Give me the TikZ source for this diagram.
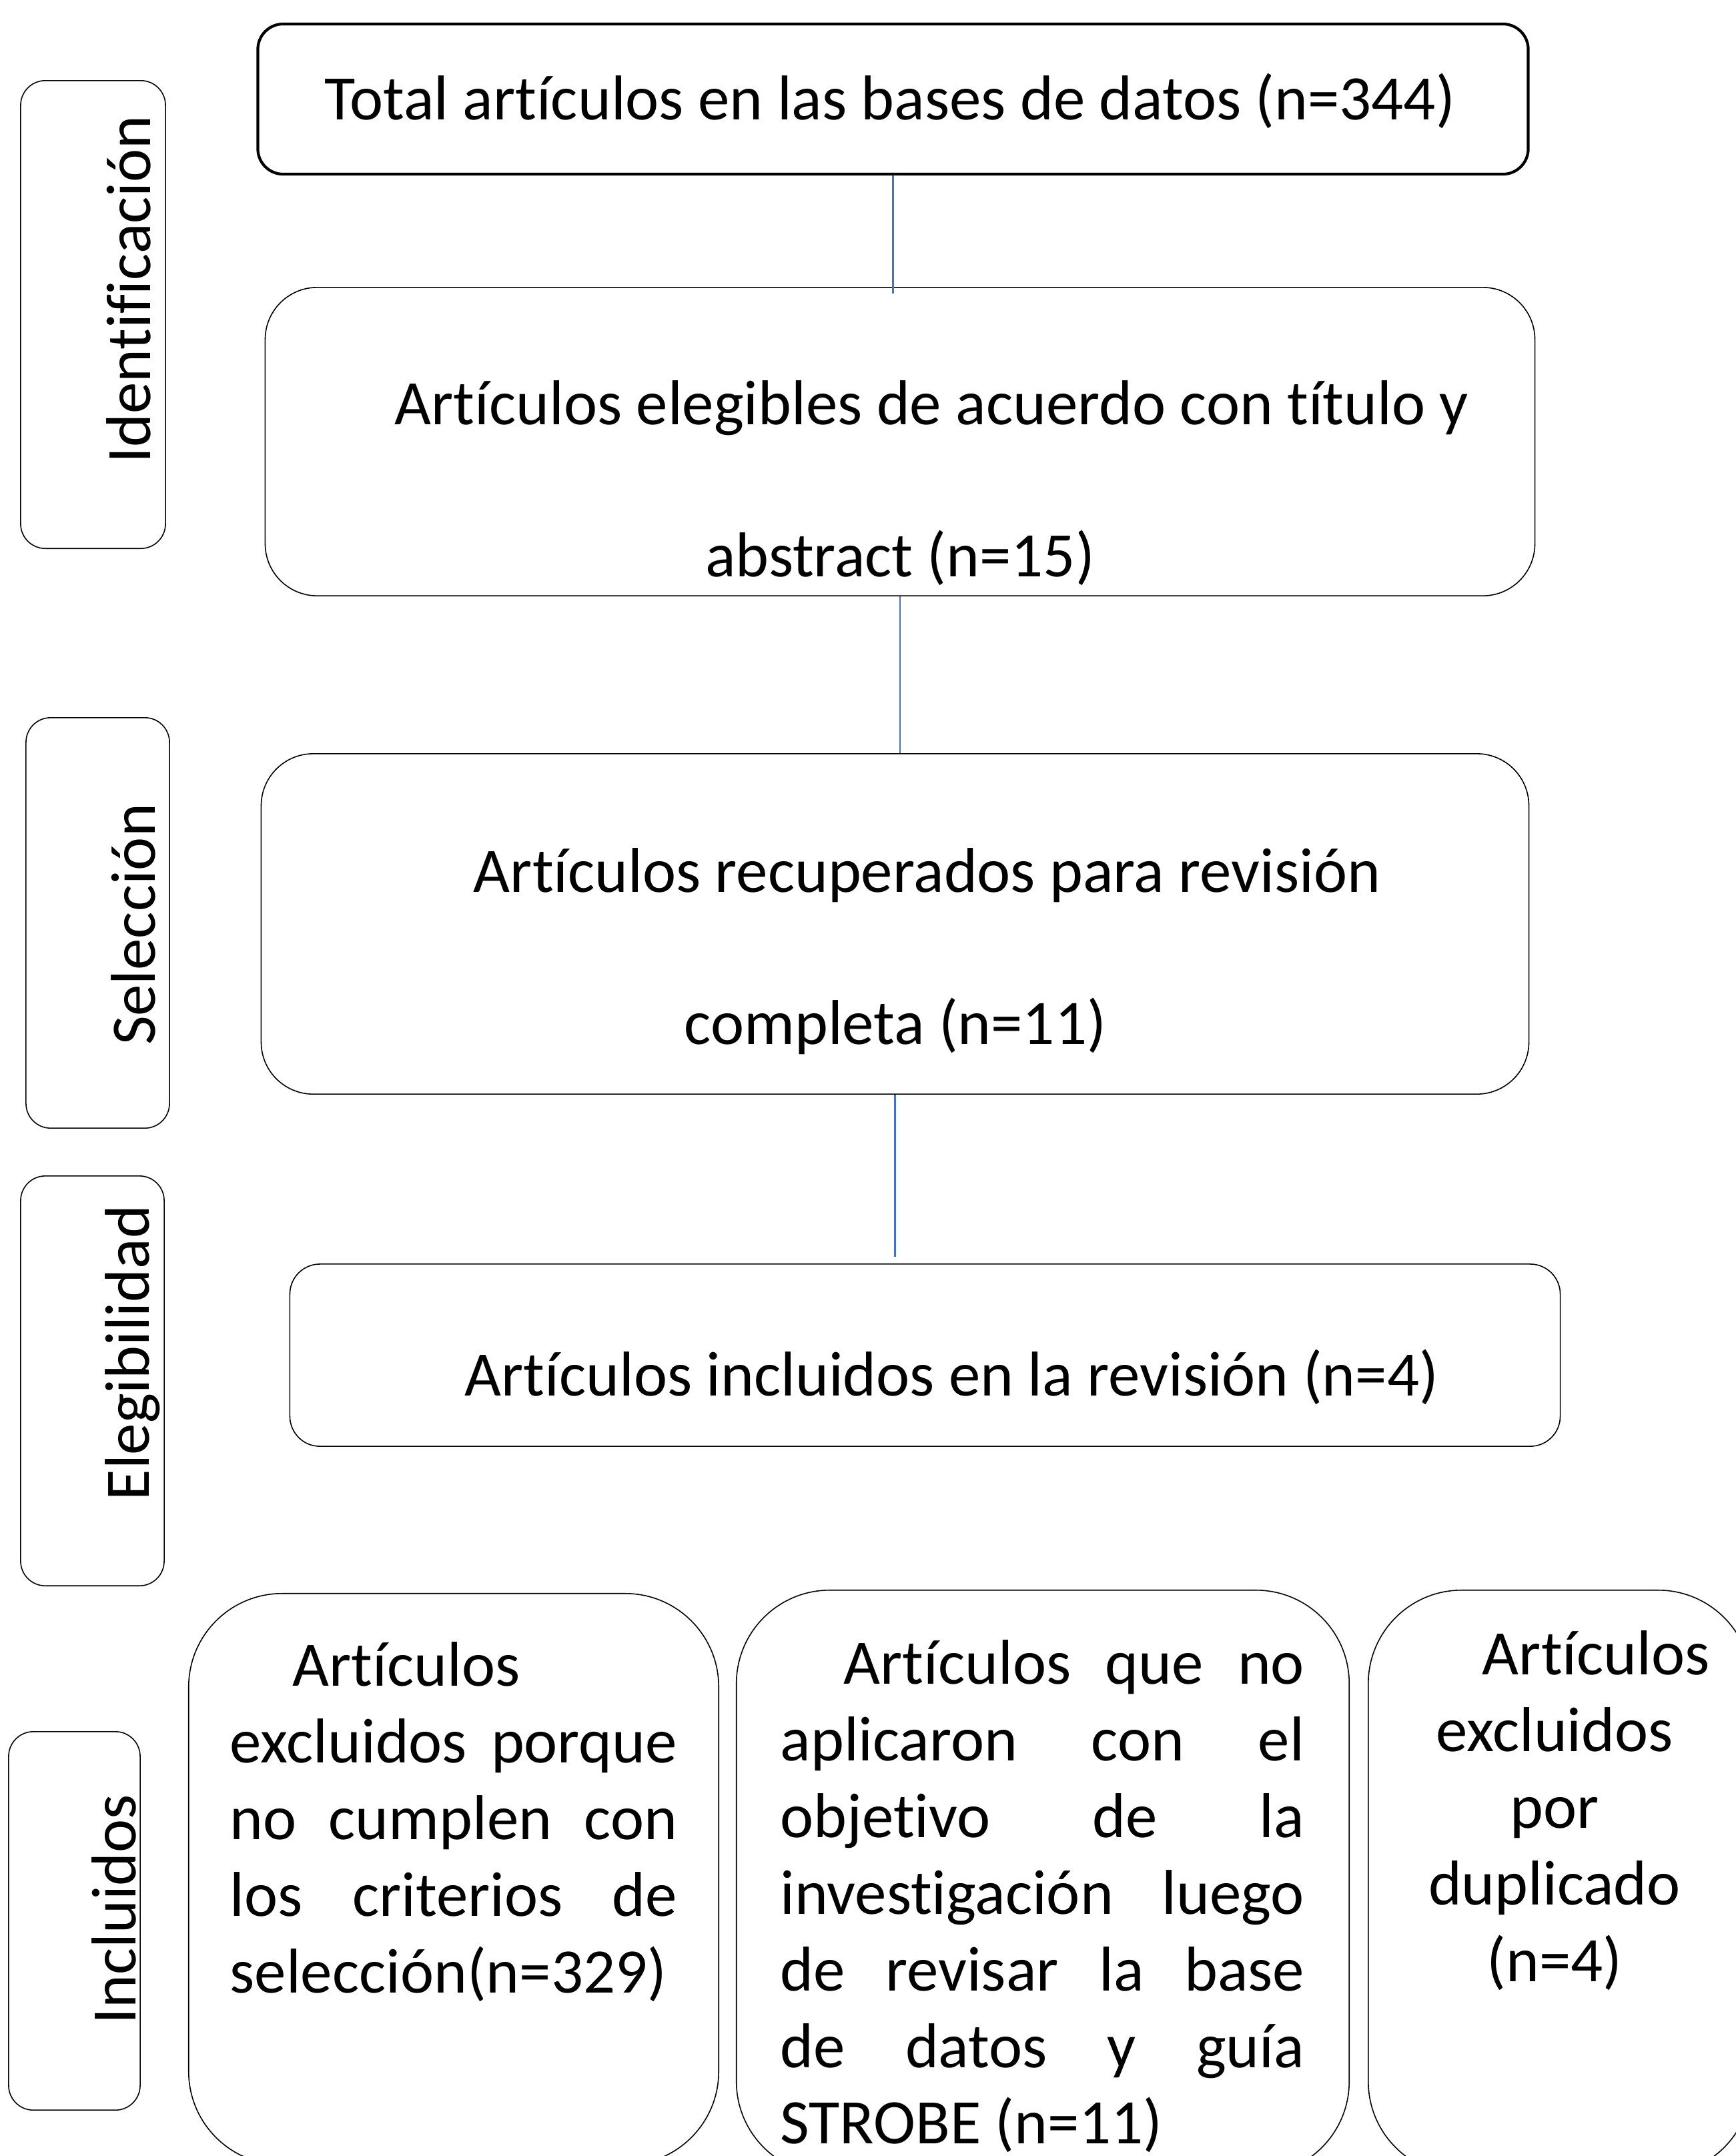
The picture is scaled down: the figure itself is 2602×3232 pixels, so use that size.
\documentclass[tikz,border=0pt]{standalone}
\usepackage{fontspec}
\setmainfont{Carlito}[Ligatures=NoCommon]
\usepackage{tikz}
\usetikzlibrary{positioning,calc}

\definecolor{linkblue}{HTML}{4472C4}
\tolerance=10000
\hyphenpenalty=10000

\tikzset{
  txt/.style={font=\fontsize{27pt}{32.7pt}\selectfont, inner sep=0pt},
  topbox/.style={draw, line width=1.2pt, rounded corners=0.38cm, inner sep=0pt},
  mainbox/.style={draw, line width=0.45pt, rounded corners=0.78cm, inner sep=0pt},
  sidebox/.style={draw, line width=0.45pt, rounded corners=0.37cm, inner sep=0pt},
  bigbox/.style={draw, line width=0.45pt, rounded corners=1.4cm, inner sep=0pt},
  link/.style={draw=linkblue, line width=0.6pt}
}

\begin{document}
\begin{tikzpicture}[x=0.01cm, y=-0.01cm]
    \useasboundingbox (0,0) rectangle (2602,3232);

    % the stage labels on the left
    \foreach \nm/\bx/\by/\bw/\bh/\tx/\ty/\lab in {ident/139.5/471.5/2.17/7.01/225/434/Identificación,
      selec/146.5/1383.5/2.15/6.15/232/1386/Selección,
      elegi/138.5/2070/2.15/6.14/223/2028/Elegibilidad,
      inclu/111.5/2879.5/1.97/5.67/203/2862/Incluidos}
    {
      \node[sidebox, minimum width=\bw cm, minimum height=\bh cm] (\nm) at (\bx,\by) {};
      \node[txt, rotate=90, anchor=base] (lab-\nm) at (\tx,\ty) {\lab};
    }

    % the main column
    \node[topbox, minimum width=19.03cm, minimum height=2.25cm] (total) at (1338.5,148.5) {};
    \node[txt, anchor=base] (total-txt) at (1334,179)
      {Total artículos en las bases de datos (n=344)};

    \node[mainbox, minimum width=19.02cm, minimum height=4.62cm] (eleg) at (1349,662) {};
    \node[txt, text width=19cm, align=flush center, anchor=base] (eleg-txt) at (1349,636)
      {\hspace*{0.95cm}Artículos elegibles de acuerdo con título y\\[32.2pt]abstract (n=15)};

    \node[mainbox, minimum width=18.99cm, minimum height=5.10cm] (recup) at (1341.5,1385) {};
    \node[txt, text width=19cm, align=flush center, anchor=base] (recup-txt) at (1342,1337)
      {\hspace*{0.95cm}Artículos recuperados para revisión\\[32.2pt]completa (n=11)};

    \node[mainbox, rounded corners=0.45cm, minimum width=19.03cm, minimum height=2.73cm] (incl) at (1386.5,2031.5) {};
    \node[txt, anchor=base west] (incl-txt) at (696,2092)
      {Artículos incluidos en la revisión (n=4)};

    % connectors
    \draw[link, shorten >=-0.1cm] (total.south) -- (total.south |- eleg.north);
    \draw[link] (eleg.south) -- (eleg.south |- recup.north);
    \draw[link, shorten >=0.1cm] (recup.south) -- (recup.south |- incl.north);

    % the excluded boxes at the bottom
    \node[bigbox, minimum width=7.94cm, minimum height=8.56cm] (excA) at (680,2817) {};
    \node[txt, text width=6.70cm, align=justify, anchor=base west] (excA-txt) at (344,2527)
      {\hspace*{0.94cm}Artículos\linebreak excluidos porque\linebreak no cumplen con\linebreak
       los criterios de\linebreak selección(n=329)};

    \node[bigbox, minimum width=9.18cm, minimum height=8.76cm] (excB) at (1563,2822) {};
    \node[txt, text width=7.85cm, align=justify, anchor=base west] (excB-txt) at (1169,2524)
      {\hspace*{0.95cm}Artículos que no\linebreak aplicaron con el\linebreak objetivo de la\linebreak
       investigación luego\linebreak de revisar la base\linebreak de datos y guía\linebreak
       STROBE (n=11)};

    \node[bigbox, minimum width=5.74cm, minimum height=8.76cm] (excC) at (2338,2822) {};
    \node[txt, text width=4cm, align=flush center, anchor=base] (excC-txt) at (2330,2510)
      {\hspace*{0.92cm}Artículos\\excluidos\\por\\duplicado\\(n=4)};
\end{tikzpicture}
\end{document}
